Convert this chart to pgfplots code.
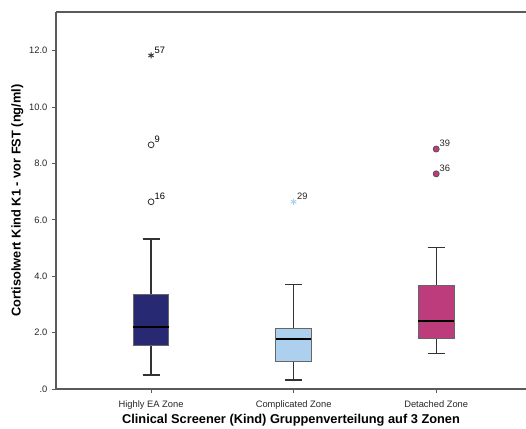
\documentclass[border=0pt]{standalone}
\usepackage{fontspec}
\setmainfont{Liberation Sans}
\usepackage{pgfplots}
\pgfplotsset{compat=1.18}
\usepgfplotslibrary{statistics}
\definecolor{cnavy}{RGB}{39,41,114}
\definecolor{clight}{RGB}{172,208,237}
\definecolor{cmag}{RGB}{189,60,124}
\definecolor{axgray}{RGB}{90,90,90}
\begin{document}
\begin{tikzpicture}
\begin{axis}[
  name=ax,
  scale only axis,
  width=352.5pt, height=282.75pt,
  xmin=0.333, xmax=3.63,
  ymin=0, ymax=13.37,
  axis x line*=bottom, axis y line*=left,
  axis line style={axgray, line width=0.8pt},
  xtick={1,2,3},
  xticklabels={Highly EA Zone, Complicated Zone, Detached Zone},
  ytick={0,2,4,6,8,10,12},
  yticklabels={.0,2.0,4.0,6.0,8.0,10.0,12.0},
  tick align=outside,
  tick style={axgray, line width=0.6pt},
  major tick length=3pt,
  ticklabel style={font=\fontsize{7}{8}\selectfont, text=black!85},
  xticklabel style={yshift=-2pt},
  ylabel={Cortisolwert Kind K1 - vor FST (ng/ml)},
  xlabel={Clinical Screener (Kind) Gruppenverteilung auf 3 Zonen},
  label style={font=\fontsize{9.6}{11}\selectfont\bfseries},
  ylabel style={at={([xshift=-29pt]rel axis cs:0,0.5)}, anchor=center, rotate=0},
  xlabel style={at={([yshift=-23.5pt]rel axis cs:0.5,0)}, anchor=center},
  clip=false,
  boxplot/draw direction=y,
  boxplot/box extend=0.25,
  boxplot/whisker extend=0.12,
  boxplot/every whisker/.style={draw=black!80, line width=0.9pt},
  boxplot/every median/.style={draw=black, line width=1.5pt},
  boxplot/every box/.style={draw=black!60, line width=0.7pt},
]
\addplot+[boxplot prepared={draw position=1, lower whisker=0.50, lower quartile=1.55, median=2.21, upper quartile=3.37, upper whisker=5.32}, fill=cnavy, draw=black!60, mark=none] coordinates {};
\addplot+[boxplot prepared={draw position=2, lower whisker=0.32, lower quartile=0.97, median=1.77, upper quartile=2.13, upper whisker=3.70}, fill=clight, draw=black!60, mark=none] coordinates {};
\addplot+[boxplot prepared={draw position=3, lower whisker=1.26, lower quartile=1.78, median=2.42, upper quartile=3.66, upper whisker=5.02}, fill=cmag, draw=black!60, mark=none] coordinates {};
% outliers
\addplot[only marks, mark=o, mark size=2.2pt, draw=black!80, line width=0.6pt,
  point meta=explicit symbolic, nodes near coords,
  every node near coord/.style={anchor=south west, font=\fontsize{7}{8}\selectfont, xshift=-1pt, yshift=-2pt}]
  coordinates {(1,8.66)[9] (1,6.64)[16]};
\addplot[only marks, mark=asterisk, mark size=2.3pt, draw=black!80, line width=0.7pt,
  point meta=explicit symbolic, nodes near coords,
  every node near coord/.style={anchor=south west, font=\fontsize{7}{8}\selectfont, xshift=-1pt, yshift=-2pt}]
  coordinates {(1,11.83)[57]};
\addplot[only marks, mark=asterisk, mark size=2.3pt, draw=clight, line width=0.7pt,
  point meta=explicit symbolic, nodes near coords,
  every node near coord/.style={anchor=south west, font=\fontsize{7}{8}\selectfont, xshift=-1pt, yshift=-2pt, text=black!85}]
  coordinates {(2,6.64)[29]};
\addplot[only marks, mark=*, mark size=2.3pt, draw=black!70, fill=cmag, line width=0.5pt,
  point meta=explicit symbolic, nodes near coords,
  every node near coord/.style={anchor=south west, font=\fontsize{7}{8}\selectfont, xshift=-1pt, yshift=-2pt, text=black!85}]
  coordinates {(3,8.51)[39] (3,7.63)[36]};
\end{axis}
\draw[axgray, line width=0.8pt] (ax.north west) -- (ax.north east);
\pgfresetboundingbox
\path ([xshift=-42pt,yshift=-30pt]ax.south west) rectangle ([yshift=9pt]ax.north east);
\end{tikzpicture}
\end{document}
